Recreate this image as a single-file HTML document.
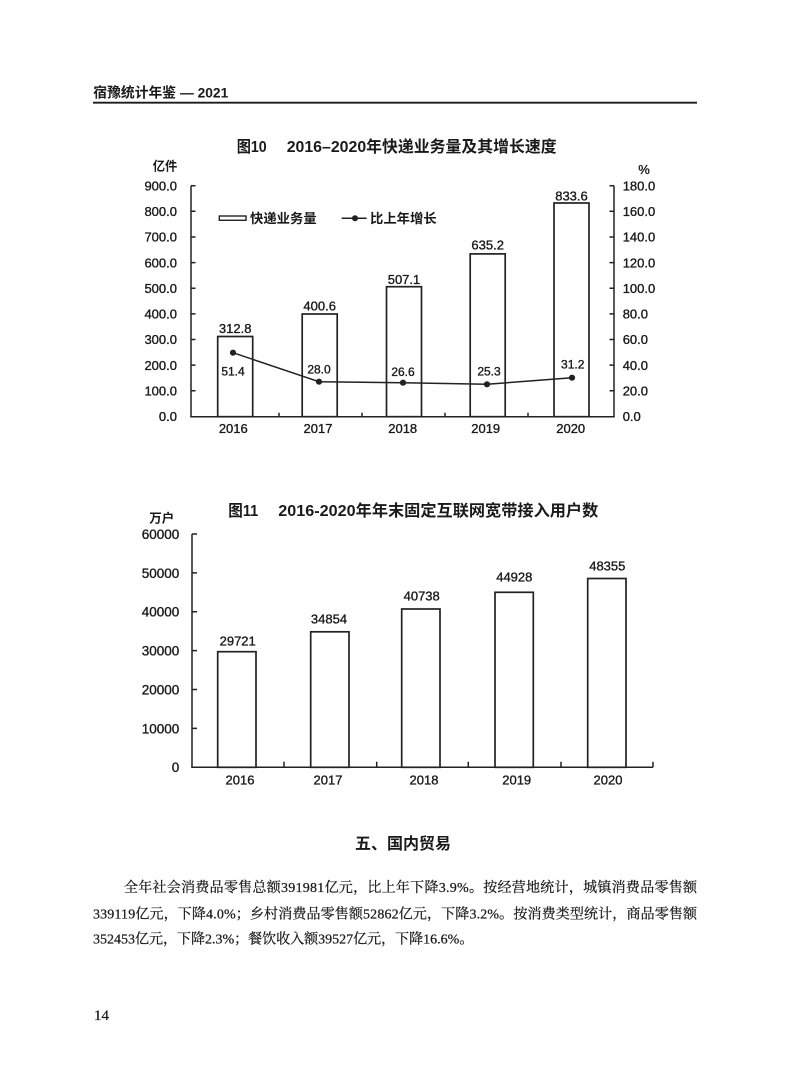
<!DOCTYPE html>
<html><head><meta charset="utf-8"><style>
html,body{margin:0;padding:0;background:#fff;}
svg{display:block;}
.s{font-family:"Liberation Sans","Noto Sans CJK SC",sans-serif;fill:#1a1a1a;stroke:#1a1a1a;stroke-width:0.35;}
.h{font-family:"Liberation Sans","Noto Sans CJK SC",sans-serif;font-weight:bold;fill:#1a1a1a;}
.p{font-family:"Liberation Serif","Noto Serif CJK SC",serif;fill:#1a1a1a;stroke:#1a1a1a;stroke-width:0.25;}
</style></head><body>
<svg width="793" height="1077" viewBox="0 0 793 1077" xmlns="http://www.w3.org/2000/svg">
<rect width="793" height="1077" fill="#fff"/>
<!-- header -->
<text class="h" x="93.3" y="97.5" font-size="14" textLength="135" lengthAdjust="spacingAndGlyphs">宿豫统计年鉴 — 2021</text>
<line x1="93" y1="102.7" x2="697" y2="102.7" stroke="#1a1a1a" stroke-width="1.8"/>

<!-- chart 1 -->
<text class="h" x="236.7" y="152" font-size="16" textLength="30" lengthAdjust="spacingAndGlyphs">图10</text>
<text class="h" x="286.7" y="152" font-size="16" textLength="270" lengthAdjust="spacingAndGlyphs">2016–2020年快递业务量及其增长速度</text>
<text class="h" x="152.7" y="170.7" font-size="12.5" textLength="24.6" lengthAdjust="spacingAndGlyphs">亿件</text>
<text class="s" x="638.3" y="174" font-size="13">%</text>

<g stroke="#222" stroke-width="1.5" fill="none">
<line x1="191" y1="185.7" x2="191" y2="417.4"/>
<line x1="614" y1="185.7" x2="614" y2="417.4"/>
<line x1="190.3" y1="416.7" x2="614.7" y2="416.7"/>
<path d="M191 185.7h4.5M191 211.3h4.5M191 237h4.5M191 262.6h4.5M191 288.2h4.5M191 313.9h4.5M191 339.5h4.5M191 365.1h4.5M191 390.8h4.5"/>
<path d="M614 185.7h-4.5M614 211.3h-4.5M614 237h-4.5M614 262.6h-4.5M614 288.2h-4.5M614 313.9h-4.5M614 339.5h-4.5M614 365.1h-4.5M614 390.8h-4.5"/>
<path d="M279 416.7v-4M362 416.7v-4M445 416.7v-4M528 416.7v-4"/>
</g>
<g class="s" font-size="13" text-anchor="end">
<text x="177" y="190.4">900.0</text>
<text x="177" y="216">800.0</text>
<text x="177" y="241.7">700.0</text>
<text x="177" y="267.3">600.0</text>
<text x="177" y="292.9">500.0</text>
<text x="177" y="318.6">400.0</text>
<text x="177" y="344.2">300.0</text>
<text x="177" y="369.8">200.0</text>
<text x="177" y="395.5">100.0</text>
<text x="177" y="421.1">0.0</text>
</g>
<g class="s" font-size="13">
<text x="622.7" y="190.4">180.0</text>
<text x="622.7" y="216">160.0</text>
<text x="622.7" y="241.7">140.0</text>
<text x="622.7" y="267.3">120.0</text>
<text x="622.7" y="292.9">100.0</text>
<text x="622.7" y="318.6">80.0</text>
<text x="622.7" y="344.2">60.0</text>
<text x="622.7" y="369.8">40.0</text>
<text x="622.7" y="395.5">20.0</text>
<text x="622.7" y="421.1">0.0</text>
</g>
<!-- legend -->
<rect x="219.3" y="216" width="26.7" height="4.3" fill="#fff" stroke="#222" stroke-width="1.4"/>
<text class="h" x="250" y="223.2" font-size="13" textLength="66.7" lengthAdjust="spacingAndGlyphs">快递业务量</text>
<line x1="341.7" y1="218.3" x2="366.7" y2="218.3" stroke="#222" stroke-width="1.5"/>
<circle cx="355" cy="218.3" r="3" fill="#222"/>
<text class="h" x="370" y="223.2" font-size="13" textLength="66.7" lengthAdjust="spacingAndGlyphs">比上年增长</text>
<!-- bars -->
<g fill="#fff" stroke="#222" stroke-width="1.7">
<rect x="217.7" y="336.5" width="35" height="80.2"/>
<rect x="302.2" y="314" width="35" height="102.7"/>
<rect x="386.5" y="286.7" width="35" height="130"/>
<rect x="470.2" y="253.9" width="35" height="162.8"/>
<rect x="554" y="203" width="35" height="213.7"/>
</g>
<g class="s" font-size="13" text-anchor="middle">
<text x="235.2" y="333">312.8</text>
<text x="319.7" y="310.7">400.6</text>
<text x="404" y="284">507.1</text>
<text x="487.7" y="249.7">635.2</text>
<text x="571.5" y="200.4">833.6</text>
</g>
<!-- line -->
<polyline points="233,352.7 319,381.7 403,382.7 487,384.3 572,377.7" fill="none" stroke="#222" stroke-width="1.5"/>
<g fill="#222">
<circle cx="233" cy="352.7" r="3.1"/>
<circle cx="319" cy="381.7" r="3.1"/>
<circle cx="403" cy="382.7" r="3.1"/>
<circle cx="487" cy="384.3" r="3.1"/>
<circle cx="572" cy="377.7" r="3.1"/>
</g>
<g class="s" font-size="12" text-anchor="middle">
<text x="233" y="375.3">51.4</text>
<text x="319" y="373.6">28.0</text>
<text x="403" y="376">26.6</text>
<text x="489" y="375.3">25.3</text>
<text x="572.7" y="368.6">31.2</text>
</g>
<g class="s" font-size="13" text-anchor="middle">
<text x="233.3" y="433">2016</text>
<text x="318" y="433">2017</text>
<text x="402.7" y="433">2018</text>
<text x="485.7" y="433">2019</text>
<text x="570.7" y="433">2020</text>
</g>

<!-- chart 2 -->
<text class="h" x="228.3" y="516" font-size="16" textLength="30" lengthAdjust="spacingAndGlyphs">图11</text>
<text class="h" x="278.3" y="516" font-size="16" textLength="320" lengthAdjust="spacingAndGlyphs">2016-2020年年末固定互联网宽带接入用户数</text>
<text class="h" x="149.3" y="522.4" font-size="12.5" textLength="25" lengthAdjust="spacingAndGlyphs">万户</text>
<g stroke="#222" stroke-width="1.5" fill="none">
<line x1="192" y1="534" x2="192" y2="768"/>
<line x1="191.3" y1="767.3" x2="653" y2="767.3"/>
<path d="M192 534h5M192 572.9h5M192 611.8h5M192 650.6h5M192 689.5h5M192 728.4h5"/>
<path d="M284 767.3v-5.5M376.7 767.3v-5.5M468.3 767.3v-5.5M561 767.3v-5.5M653 767.3v-5.5"/>
</g>
<g class="s" font-size="13.5" text-anchor="end">
<text x="179.3" y="538.9">60000</text>
<text x="179.3" y="577.8">50000</text>
<text x="179.3" y="616.7">40000</text>
<text x="179.3" y="655.5">30000</text>
<text x="179.3" y="694.4">20000</text>
<text x="179.3" y="733.3">10000</text>
<text x="179.3" y="772.2">0</text>
</g>
<g fill="#fff" stroke="#222" stroke-width="1.7">
<rect x="217.7" y="651.7" width="38.3" height="115.6"/>
<rect x="310.7" y="631.8" width="38.3" height="135.5"/>
<rect x="401.7" y="609" width="38.3" height="158.3"/>
<rect x="495" y="592.3" width="38.3" height="175"/>
<rect x="587.7" y="578.5" width="38.3" height="188.8"/>
</g>
<g class="s" font-size="13" text-anchor="middle">
<text x="237.7" y="645.7">29721</text>
<text x="329" y="623.7">34854</text>
<text x="421.7" y="600.7">40738</text>
<text x="514.3" y="581.4">44928</text>
<text x="607.3" y="570.7">48355</text>
</g>
<g class="s" font-size="13" text-anchor="middle">
<text x="240" y="784.7">2016</text>
<text x="328" y="784.7">2017</text>
<text x="424" y="784.7">2018</text>
<text x="516.7" y="784.7">2019</text>
<text x="608" y="784.7">2020</text>
</g>

<!-- section -->
<text class="h" x="355" y="849" font-size="16" textLength="96" lengthAdjust="spacingAndGlyphs">五、国内贸易</text>
<text class="p" x="124" y="892" font-size="14" textLength="573" lengthAdjust="spacing">全年社会消费品零售总额391981亿元，比上年下降3.9%。按经营地统计，城镇消费品零售额</text>
<text class="p" x="93" y="918.5" font-size="14" textLength="604" lengthAdjust="spacing">339119亿元，下降4.0%；乡村消费品零售额52862亿元，下降3.2%。按消费类型统计，商品零售额</text>
<text class="p" x="93" y="943.5" font-size="14">352453亿元，下降2.3%；餐饮收入额39527亿元，下降16.6%。</text>

<text class="p" x="94" y="1020" font-size="15">14</text>
</svg>
</body></html>
